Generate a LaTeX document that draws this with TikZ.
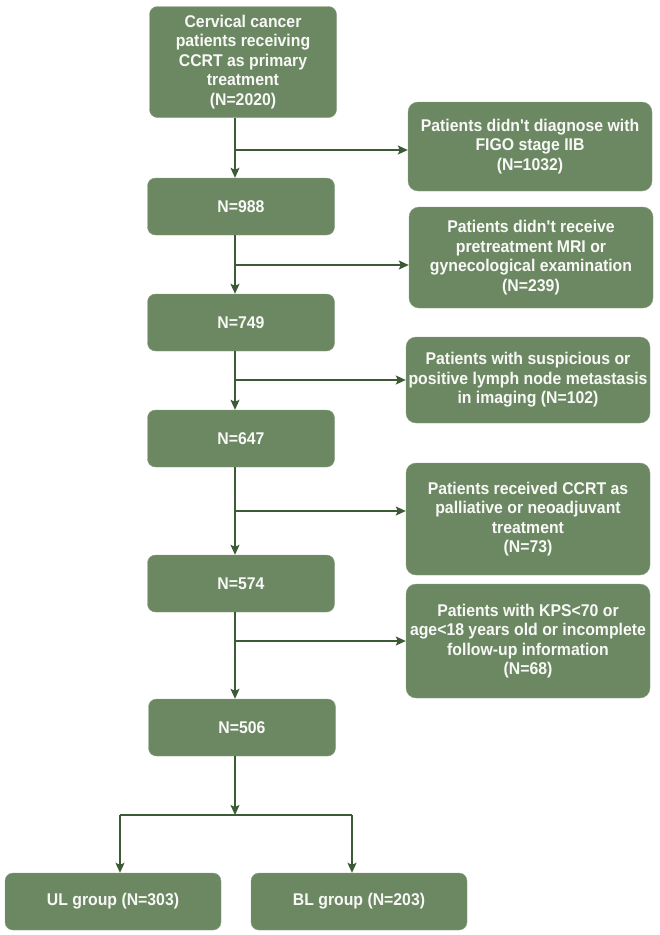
\documentclass[tikz,border=0pt]{standalone}
\usepackage{fontspec}
\setmainfont{Liberation Sans}[FakeStretch=0.93]
\usetikzlibrary{arrows.meta, positioning}
\definecolor{boxgreen}{HTML}{6C8862}
\definecolor{linegreen}{HTML}{3C5A35}

\begin{document}
\begin{tikzpicture}[x=1pt, y=-1pt,
  box/.style={draw=boxgreen!80!white, fill=boxgreen, rounded corners=8pt, text=white!95!boxgreen, align=center,
    inner sep=0pt, font=\bfseries\fontsize{17}{19.5}\selectfont},
  mainbox/.style={box, minimum width=187pt, minimum height=57pt},
  sidebox/.style={box, minimum width=244pt, rounded corners=10pt},
  arr/.style={draw=linegreen, line width=1.4pt, -{Stealth[length=10pt, width=9pt, inset=2pt]}}]
\useasboundingbox (0,0) rectangle (660,935);
\node[mainbox, minimum height=111pt] (start) at (243,62) {Cervical cancer\\patients receiving\\CCRT as primary\\treatment\\(N=2020)};
\node[mainbox] (n988) at (241,206.5) {N=988};
\node[mainbox] (n749) at (241,322.5) {N=749};
\node[mainbox] (n647) at (241,438.5) {N=647};
\node[mainbox] (n574) at (241,583.5) {N=574};
\node[mainbox] (n506) at (242,727.5) {N=506};
\node[sidebox, minimum height=89pt] (ex1) at (530,146.5) {Patients didn\textquotesingle t diagnose with\\FIGO stage IIB\\(N=1032)};
\node[sidebox, minimum height=101pt] (ex2) at (531,257.5) {Patients didn\textquotesingle t receive\\pretreatment MRI or\\gynecological examination\\(N=239)};
\node[sidebox, minimum height=86pt] (ex3) at (528,380) {Patients with suspicious or\\positive lymph node metastasis\\in imaging (N=102)};
\node[sidebox, minimum height=112pt] (ex4) at (528,519) {Patients received CCRT as\\palliative or neoadjuvant\\treatment\\(N=73)};
\node[sidebox, minimum height=114pt] (ex5) at (528,641) {Patients with KPS<70 or\\age<18 years old or incomplete\\follow-up information\\(N=68)};
\node[mainbox, minimum width=216pt] (ul) at (113,901.5) {UL group (N=303)};
\node[mainbox, minimum width=216pt] (bl) at (359,901.5) {BL group (N=203)};
\coordinate (spine) at (235,0);
\coordinate (ulin) at (120,815);
\coordinate (blin) at (352,815);
% main column
\draw[arr] (spine |- start.south) -- (spine |- n988.north);
\draw[arr] (spine |- n988.south) -- (spine |- n749.north);
\draw[arr] (spine |- n749.south) -- (spine |- n647.north);
\draw[arr] (spine |- n647.south) -- (spine |- n574.north);
\draw[arr] (spine |- n574.south) -- (spine |- n506.north);
% exclusions
\draw[arr] (spine |- 0,150) -- (ex1.west |- 0,150);
\draw[arr] (spine |- 0,265) -- (ex2.west |- 0,265);
\draw[arr] (spine |- ex3.west) -- (ex3.west);
\draw[arr] (spine |- 0,511) -- (ex4.west |- 0,511);
\draw[arr] (spine |- ex5.west) -- (ex5.west);
% groups
\draw[arr] (spine |- n506.south) -- (spine |- ulin);
\draw[draw=linegreen, line width=1.4pt] (ulin) -- (blin);
\draw[arr] (ulin) -- (ulin |- ul.north);
\draw[arr] (blin) -- (blin |- bl.north);
\end{tikzpicture}
\end{document}
